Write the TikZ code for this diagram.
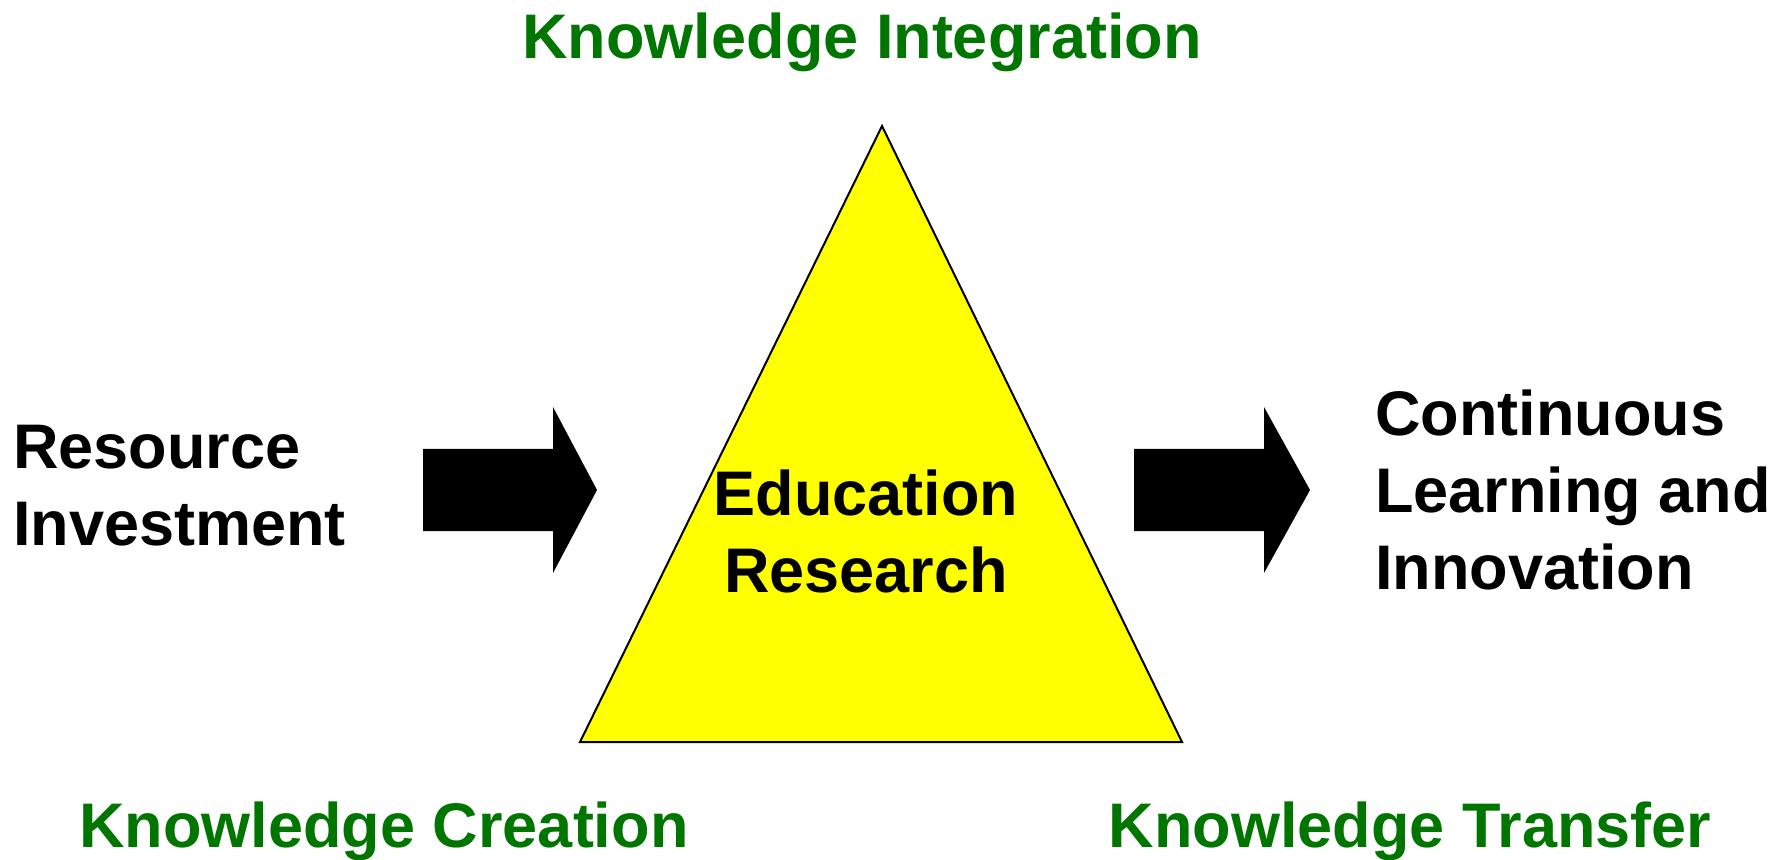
\documentclass[tikz,border=0pt]{standalone}
\usepackage{fontspec}
\setmainfont{Liberation Sans}
\definecolor{kgreen}{RGB}{0,118,0}
\definecolor{kyellow}{RGB}{255,255,0}
\tikzset{
  bigtext/.style={inner sep=0pt, font=\bfseries\fontsize{31.5}{38.5}\selectfont},
  greentext/.style={bigtext, text=kgreen},
  blockarrow/.style={fill=black},
}
\begin{document}
\begin{tikzpicture}[x=0.5pt, y=-0.5pt]
    \useasboundingbox (0,0) rectangle (1791,860);

    % The triangle in the middle
    \coordinate (apex) at (882,126);
    \coordinate (bl) at (580,742);
    \coordinate (br) at (1182,742);
    \filldraw[fill=kyellow, draw=black, line width=1pt] (apex) -- (bl) -- (br) -- cycle;
    \node[bigtext, align=center, anchor=base] (edu) at (866,592) {Education\\Research};

    % Corner labels
    \node[greentext, anchor=base] (integ) at (862,59) {Knowledge Integration};
    \node[greentext, anchor=base] (creat) at (384,847) {Knowledge Creation};
    \node[greentext, anchor=base] (trans) at (1410,847) {Knowledge Transfer};

    % Input and output
    \node[bigtext, align=left, anchor=base west] (res) at (13,545) {Resource\\Investment};
    \node[bigtext, align=left, anchor=base west] (cont) at (1375,589) {Continuous\\Learning and\\Innovation};

    % Block arrows
    \fill[blockarrow] (423,449) -- (553,449) -- (553,407) -- (597,490)
        -- (553,573) -- (553,531) -- (423,531) -- cycle;
    \fill[blockarrow] (1134,449) -- (1264,449) -- (1264,407) -- (1310,490)
        -- (1264,573) -- (1264,531) -- (1134,531) -- cycle;
\end{tikzpicture}
\end{document}
